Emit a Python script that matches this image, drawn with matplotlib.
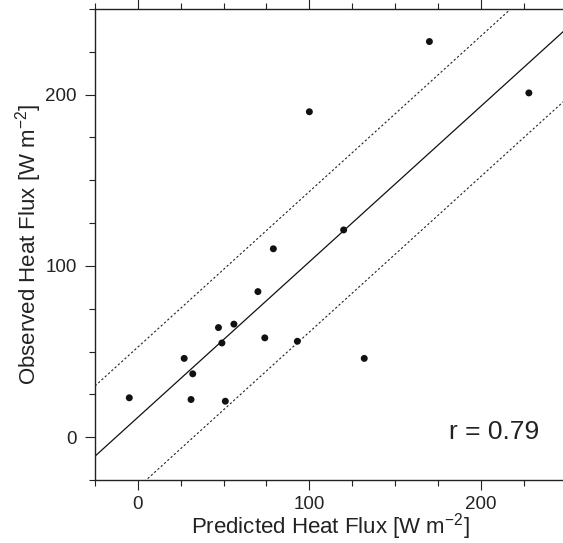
import numpy as np
import matplotlib.pyplot as plt
from matplotlib.ticker import MultipleLocator

plt.rcParams['font.family'] = ['Liberation Sans', 'DejaVu Sans']
plt.rcParams['mathtext.fontset'] = 'custom'
plt.rcParams['mathtext.rm'] = 'Liberation Sans'

# values
predicted = [-5, 27, 32, 31, 51, 47, 56, 49, 74, 93, 70, 79, 120, 100, 170, 228, 132]
observed = [23, 46, 37, 22, 21, 64, 66, 55, 58, 56, 85, 110, 121, 190, 231, 201, 46]
fit_slope = 0.908
fit_intercept = 11.6
band = 41
r_value = 0.79

text_col = '#222222'

fig = plt.figure(figsize=(5.63, 5.43), dpi=100)
ax = fig.add_axes([95 / 563, 63 / 543, 471.6 / 563, 471 / 543])

xx = np.array([-25, 250])
ax.plot(xx, fit_slope * xx + fit_intercept, color='#111111', lw=0.9)
ax.plot(xx, fit_slope * xx + fit_intercept + band, color='#222222', lw=0.8, ls=(0, (2, 2)))
ax.plot(xx, fit_slope * xx + fit_intercept - band, color='#222222', lw=0.8, ls=(0, (2, 2)))

ax.scatter(predicted, observed, s=25, color='#111111', edgecolors='none', zorder=3)

ax.set_xlim(-25, 250)
ax.set_ylim(-25, 250)
ax.xaxis.set_major_locator(MultipleLocator(100))
ax.xaxis.set_minor_locator(MultipleLocator(25))
ax.yaxis.set_major_locator(MultipleLocator(100))
ax.yaxis.set_minor_locator(MultipleLocator(25))

ax.tick_params(which='both', direction='out', top=True, right=False, width=0.8,
               colors='#222222', labelsize=13.5, labelcolor=text_col)
ax.tick_params(which='major', length=7)
ax.tick_params(which='minor', length=4)
ax.tick_params(axis='x', which='major', pad=4.5)
ax.tick_params(axis='y', which='major', pad=6)
for sp in ax.spines.values():
    sp.set_linewidth(1.0)
    sp.set_color('#222222')

ax.set_xlabel('Predicted Heat Flux [W m$^{\\mathregular{-2}}$]', fontsize=16,
              color=text_col, labelpad=-1)
ax.set_ylabel('Observed Heat Flux [W m$^{\\mathregular{-2}}$]', fontsize=16,
              color=text_col, labelpad=1)

ax.text(234, -1, 'r = %.2f' % r_value, fontsize=19, color=text_col,
        ha='right', va='baseline')

fig.savefig('out.png', dpi=100)
